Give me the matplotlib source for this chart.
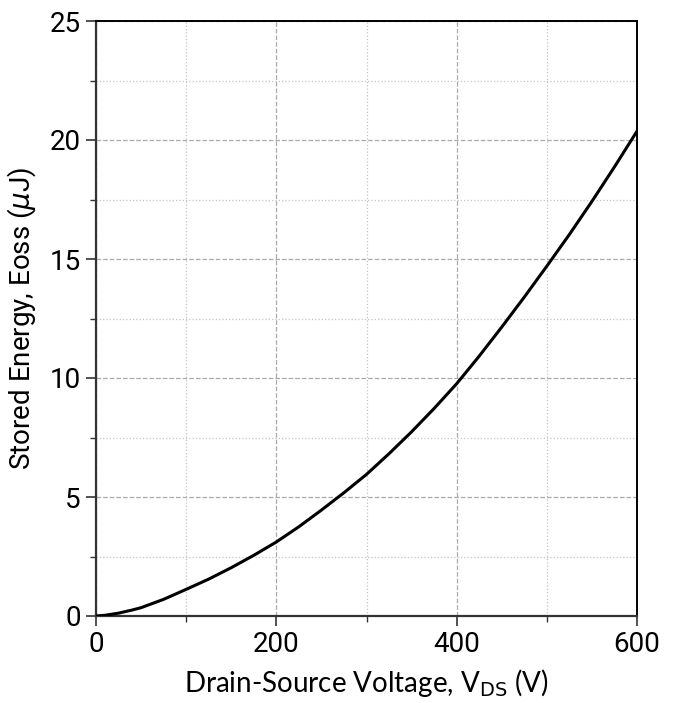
import matplotlib
matplotlib.use("Agg")
import matplotlib.pyplot as plt
from matplotlib.ticker import MultipleLocator

# Eoss vs Vds
vds = [0, 10, 25, 40, 50, 75, 100, 125, 150, 175, 200, 225, 250, 275, 300,
       325, 350, 375, 400, 425, 450, 475, 500, 525, 550, 575, 600]
eoss = [0.0, 0.03, 0.12, 0.25, 0.35, 0.70, 1.12, 1.55, 2.03, 2.55, 3.11, 3.75, 4.45, 5.18, 5.95,
        6.82, 7.74, 8.72, 9.76, 10.92, 12.14, 13.40, 14.70, 16.03, 17.42, 18.87, 20.37]

xticks = [0, 200, 400, 600]
yticks = [0, 5, 10, 15, 20, 25]

tick_font = ['Roboto', 'DejaVu Sans']

fig = plt.figure(figsize=(6.78, 7.03), dpi=100)
ax = fig.add_axes([96 / 678, 1 - 616 / 703, 541 / 678, 595 / 703])

ax.plot(vds, eoss, color='black', linewidth=2.2, zorder=3)

ax.set_xlim(0, 600)
ax.set_ylim(0, 25)
ax.set_xticks(xticks)
ax.set_yticks(yticks)
ax.xaxis.set_minor_locator(MultipleLocator(100))
ax.yaxis.set_minor_locator(MultipleLocator(2.5))

ax.grid(which='major', linestyle='--', color='#aaaaaa', linewidth=0.9)
ax.grid(which='minor', linestyle=':', color='#c4c4c4', linewidth=0.9)
ax.set_axisbelow(True)

for s in ['left', 'bottom']:
    ax.spines[s].set_linewidth(1.6)
    ax.spines[s].set_color('#333333')
for s in ['top', 'right']:
    ax.spines[s].set_linewidth(1.4)
    ax.spines[s].set_color('black')

ax.tick_params(which='major', length=7, width=1.2, color='#333333', direction='out', pad=4)
ax.tick_params(which='minor', length=4, width=1.0, color='#333333', direction='out')
ax.tick_params(top=False, right=False)

for lab in ax.get_xticklabels() + ax.get_yticklabels():
    lab.set_family(tick_font)
    lab.set_fontsize(20)

ax.set_xlabel(r'Drain-Source Voltage, V$_{\mathrm{DS}}$ (V)', fontsize=20,
              family=['Lato', 'DejaVu Sans'], labelpad=6)
ax.set_ylabel(r'Stored Energy, Eoss ($\mu$J)', fontsize=20,
              family=['Roboto', 'DejaVu Sans'], labelpad=8)

fig.savefig('out.png', dpi=100)
